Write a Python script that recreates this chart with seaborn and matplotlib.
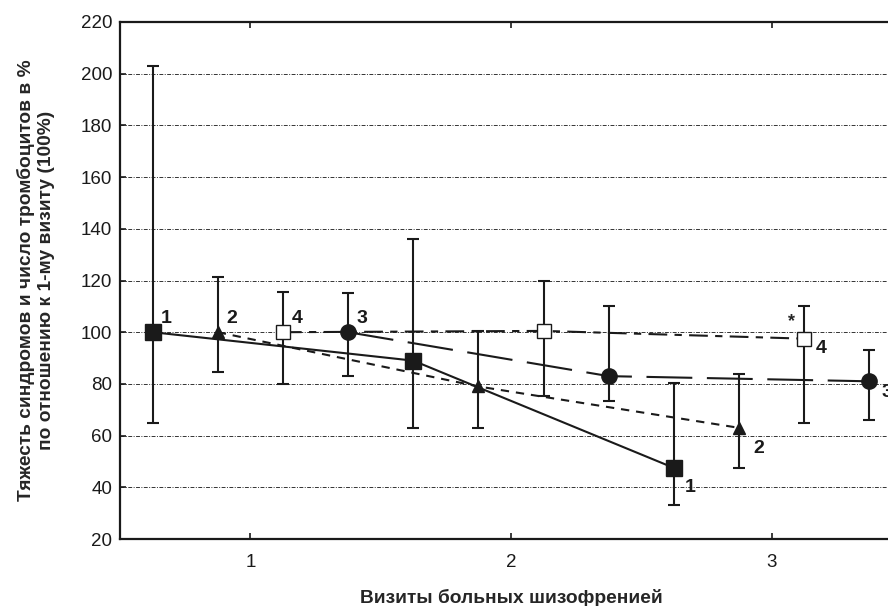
import numpy as np
import pandas as pd
import matplotlib
matplotlib.use("Agg")
import matplotlib.pyplot as plt
import seaborn as sns

# visits and series (values in % of 1st visit)
visits = [1, 2, 3]
series = ["1", "2", "4", "3"]
offsets = {"1": -0.375, "2": -0.125, "4": 0.125, "3": 0.375}

mean_1 = [100, 89, 47.5]
low_1 = [65, 63, 33]
high_1 = [203, 136, 80.5]

mean_2 = [100, 79, 63]
low_2 = [84.5, 63, 47.5]
high_2 = [121.5, 100.5, 84]

mean_4 = [100, 100.5, 97.5]
low_4 = [80, 75.5, 65]
high_4 = [115.5, 120, 110]

mean_3 = [100, 83, 81]
low_3 = [83, 73.5, 66]
high_3 = [115, 110, 93]

means = {"1": mean_1, "2": mean_2, "4": mean_4, "3": mean_3}
lows = {"1": low_1, "2": low_2, "4": low_4, "3": low_3}
highs = {"1": high_1, "2": high_2, "4": high_4, "3": high_3}

rows = []
for s in series:
    for i, v in enumerate(visits):
        rows.append({"series": s, "x": v + offsets[s], "y": means[s][i],
                     "lo": lows[s][i], "hi": highs[s][i]})
df = pd.DataFrame(rows)

sns.set_style("ticks")
plt.rcParams['font.family'] = ['Liberation Sans', 'DejaVu Sans']

fig = plt.figure(figsize=(8.88, 6.06), dpi=100)
ax = fig.add_axes([120/888, 67/606, 782/888, 517/606])

# grid lines
for y in range(40, 220, 20):
    ax.axhline(y, color='#333333', lw=0.7, ls=(0, (4, 1.5, 1, 1.5)), zorder=0)

# error bars
for s in series:
    d = df[df.series == s]
    ax.errorbar(d.x, d.y, yerr=[d.y - d.lo, d.hi - d.y], fmt='none',
                ecolor='#1a1a1a', elinewidth=1.5, capsize=4.5, capthick=1.5, zorder=2)

dashes = {"1": "", "2": (4, 3.3), "4": (9, 3.5, 3.5, 3.5), "3": (22, 7)}
markers = {"1": "s", "2": "^", "4": "s", "3": "o"}
sns.lineplot(data=df, x="x", y="y", hue="series", style="series",
             palette={s: '#1a1a1a' for s in series}, dashes=dashes,
             markers=markers, markersize=0, linewidth=1.5, legend=False,
             ax=ax, zorder=3)

# markers drawn separately to control fill
msize = {"1": 11.5, "2": 8.5, "4": 9.5, "3": 11}
for s in series:
    d = df[df.series == s]
    face = 'white' if s == "4" else '#1a1a1a'
    ax.plot(d.x, d.y, ls='none', marker=markers[s], ms=msize[s],
            mfc=face, mec='#1a1a1a', mew=1.0, zorder=4)

# series numbers
lab_kw = dict(fontsize=14, fontweight='bold', color='#1a1a1a',
              textcoords='offset points', ha='left', va='center')
for s in series:
    d = df[df.series == s].reset_index(drop=True)
    ax.annotate(s, (d.x[0], d.y[0]), xytext=(6, 10), **lab_kw)
last_off = {"1": (8, -14), "2": (10, -15), "4": (8, -7), "3": (9, -8)}
for s in series:
    d = df[df.series == s].reset_index(drop=True)
    ax.annotate(s, (d.x[2], d.y[2]), xytext=last_off[s], **lab_kw)
d4 = df[df.series == "4"].reset_index(drop=True)
ax.annotate("*", (d4.x[2], d4.y[2]), xytext=(-9, 12), textcoords='offset points',
            ha='center', va='center', fontsize=13, fontweight='bold')

ax.set_xlim(0.5, 3.5)
ax.set_ylim(20, 220)
ax.set_xticks(visits)
ax.set_yticks(range(20, 221, 20))
ax.tick_params(direction='in', length=4, width=1.2, labelsize=13.5,
               top=True, colors='#1a1a1a')
ax.tick_params(axis='x', pad=11)
ax.tick_params(axis='y', pad=5.5)
for sp in ax.spines.values():
    sp.set_linewidth(1.6)
    sp.set_color('#1a1a1a')

ax.set_xlabel("Визиты больных шизофренией", fontsize=13.8, fontweight='bold')
ax.xaxis.set_label_coords(0.5, -0.097)
ax.set_ylabel("Тяжесть синдромов и число тромбоцитов в %\nпо отношению к 1-му визиту (100%)",
              fontsize=13.8, fontweight='bold')
ax.yaxis.set_label_coords(-0.083, 0.5)

fig.savefig("out.png", dpi=100)
